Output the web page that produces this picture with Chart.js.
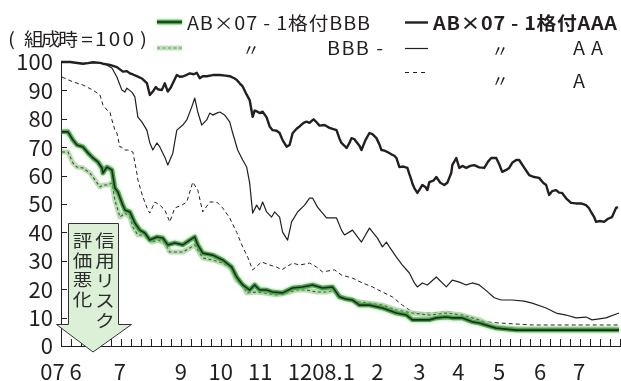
<!DOCTYPE html>
<html lang="ja"><head><meta charset="utf-8">
<script src="https://cdn.jsdelivr.net/npm/chart.js@4.4.1/dist/chart.umd.min.js"></script>
<style>html,body{margin:0;padding:0;background:#fff;overflow:hidden}canvas{display:block}</style>
</head><body>
<canvas id="chart" width="621" height="381"></canvas>
<script>
const FONT = '"Noto Sans CJK JP", "Noto Sans", sans-serif';
const TXT = '#231f20';
const AXIS = '#231f20';

// x axis: weeks counted from the start of June 2007 (weekly minor ticks)
const weekCount = 56;
const monthTickPos = [0, 5.9, 12, 16, 19.95, 23.95, 27.3, 31.7, 35.9, 39.8, 43.9, 48, 51.9];
const monthTickLabels = ['07 6', '7', '9', '10', '11', '12', '08.1', '2', '3', '4', '5', '6', '7'];
const yTickValues = [0, 10, 20, 30, 40, 50, 60, 70, 80, 90, 100];

// AB×07-1 格付AAA
const aaaWeek = [0,0.9,2.2,2.7,3.2,3.9,4.2,4.9,5.6,6.2, 6.6,6.9,7.2,7.6,8.1,8.6,8.9,9.2,9.5,9.7, 10.1,10.4,10.7,11.0,11.2,11.6,11.9,12.2,12.6,12.9, 13.3,13.6,13.9,14.2,14.6,15.2,15.9,16.5,16.9,17.4, 17.6,17.9,18.2,18.6,18.9,19.2,19.4,19.6,19.9,20.2, 20.6,20.9,21.2,21.6,21.9,22.2,22.6,22.9,23.2,23.6, 23.9,24.3,24.6,24.9,25.3,25.6,25.9,26.4,26.9,27.6, 27.9,28.1,28.4,28.6,28.9,29.1,29.4,29.6,29.9,30.1, 30.5,30.9,31.2,31.6,31.9,32.1,32.4,32.7,33.1,33.4, 33.6,33.9,34.3,34.7,34.9,35.1,35.2,35.4,35.7,35.9, 36.2,36.5,36.7,36.9,37.3,37.6,38.0,38.4,38.7,38.9, 39.1,39.2,39.6,39.9,40.2,40.6,41.0,41.4,41.9,42.4, 42.8,43.1,43.6,43.9,44.2,44.6,44.9,45.2,45.6,45.9, 46.4,46.9,47.4,47.9,48.3,48.6,48.9,49.2,49.6,49.9, 50.2,50.6,51.1,51.6,52.1,52.6,52.9,53.1,53.4,53.6, 54.0,54.4,54.8,55.2,55.4,55.6,55.8];
const aaaValue = [100,100,99.4,99.6,99.9,99.7,99.4,99,98.2,96.6, 96.8,96,95.6,95,94.2,92.6,88.4,89.6,91.2,90.4, 90.1,92.5,89.6,91,92.5,95.4,94.8,94.9,95.5,96, 95.7,96.2,94.3,95,95,95.4,95.4,95.2,95,94.2, 93.7,92.5,91.4,88.5,86.6,80.7,82.9,82.7,82,82.5, 80.5,77.3,76,75.8,75,72.5,70.2,70.8,74.9,76.5, 77.3,78.6,79,78.6,79.8,78.8,77.6,77.8,76.8,76, 73,71.5,70.5,69.7,71.5,73.2,72.8,71.8,70.5,69, 72.5,75,74.6,73.2,71,69,68.8,68.3,67.5,67, 66.2,63,63.2,62.7,60.5,58.5,57.2,55.6,53.9,55, 56.7,56,54.9,57.7,58.2,59.5,57.5,56.7,57.5,59.2, 61,63.7,66.2,62.7,63.4,62.7,63.4,63.7,62.9,62.7, 65,66.2,66.2,64,61.3,62,62.7,64.5,65.5,65.5, 62.8,60.2,59.5,59.2,57.5,56.7,53.2,54.5,54.9,54, 53.9,52,50.4,50.2,50.2,49.6,48.5,47.2,45.5,43.7, 44,43.7,44.8,45.4,47,48.6,48.9];

// 〃 AA
const aaWeek = [0,0.9,2.2,3.2,3.9,4.4,5.1,5.6,6.1,6.4, 6.6,7.1,7.4,7.7,8.1,8.6,8.9,9.2,9.6,9.9, 10.4,10.7,11.2,11.6,12.2,12.6,13.1,13.4,13.7,14.1, 14.6,14.9,15.2,15.6,15.9,16.4,16.9,17.2,17.7,18.2, 18.6,18.9,19.1,19.2,19.6,19.9,20.2,20.6,21.1,21.4, 21.9,22.2,22.7,23.1,23.7,24.4,24.9,25.2,25.7,26.6, 27.6,28.1,28.4,29.2,30.1,30.9,31.7,32.2,32.6,32.9, 33.6,34.2,34.9,35.4,35.7,36.2,36.7,37.6,38.6,39.2, 39.9,40.6,41.2,41.9,42.6,43.4,44.1,45.2,46.4,47.2, 48.6,49.6,50.6,51.6,52.6,53.2,54.6,55.9];
const aaValue = [100,100,99.4,99.9,99.7,99.3,97.9,94.7,90.1,89.4, 90.8,89.4,87.7,80.6,78.9,76,71.5,69,71.5,70.1, 66.5,63.7,67.9,76,77.8,79.6,84.2,87.3,82.4,77.8, 79.6,82,81.3,82,82.4,81.3,78.9,75,69,65.5, 63,57.4,50.4,46.8,49.6,47.9,50.7,47.2,45.4,47.2, 45.4,40.1,37.3,43.7,47.2,49.6,52.1,52.1,48.9,45.1, 45.1,40.8,39.1,40.8,36.6,41.5,38,34.9,36.6,34.9, 31.3,28.5,25.7,22.2,20.8,22.2,21.5,24.3,20.8,23.2, 22.5,21.5,22.2,21.5,19.5,17,16.2,16.2,15.8,15.1, 13.4,11.6,10.9,9.9,10.2,9.2,9.9,11.6];

// 〃 A
const aWeek = [0.1,1.2,2.2,3.2,3.9,4.2,4.6,4.9,5.1,5.4, 5.6,5.9,6.1,6.4,6.7,7.2,7.6,7.7,8.2,8.7, 8.9,9.4,9.9,10.4,10.9,11.4,12.1,12.6,13.2,13.7, 14.2,14.9,15.6,16.2,16.9,17.6,18.2,18.7,19.2,20.1, 20.9,21.6,22.1,23.2,23.9,24.9,25.6,26.2,27.4,28.1, 29.2,30.2,31.2,32.2,33.2,34.2,34.9,35.6,36.9,38.2, 39.1,39.6,40.9,41.9,42.6,43.9,47.2,55.9];
const aValue = [94.7,93,91.9,90.1,88.4,84.9,83.1,82.4,79.6,76, 75,70.1,70,69,69,68.3,60.9,58.5,52.5,47.9, 46.8,50.7,49.6,47.9,43.7,48.6,49.6,50.7,57.7,54.9, 47.2,50.7,50.7,48.6,45.1,40,34.9,31.3,26.8,29.6, 28.5,27.8,26.8,29.2,28.5,29.2,27.8,26.1,26.8,25, 23.9,22.2,20.8,19,17.3,14.4,12.7,11.6,11.6,12, 12,10.9,9.9,9.2,8.5,8.1,7.4,7.4];

// AB×07-1 格付BBB
const bbbWeek = [0.1,0.7,1.2,1.6,2.2,2.7,3.2,3.7,4.1,4.2, 4.6,5.1,5.4,5.7,6.1,6.4,6.9,7.4,7.9,8.4, 8.9,9.6,10.2,10.7,11.4,12.2,12.9,13.4,13.7,14.2, 15.2,16.2,17.1,17.6,18.2,18.9,19.4,19.9,20.6,21.2, 22.2,23.2,24.2,25.2,26.2,27.2,27.9,28.6,29.2,29.9, 30.9,32.2,33.6,34.6,35.2,36.9,37.6,38.6,39.2,40.2, 41.2,41.9,42.9,43.6,45.6,55.9];
const bbbValue = [75.4,75.4,72.5,70.8,70.1,68,66.2,64.8,62.7,60.9, 63,62,55.6,54.2,50.4,47.9,47.2,43.3,40.8,39.8, 37.3,38.4,38,35.6,36.3,35.6,37.3,38.4,35.6,32.7, 32,30.3,27.8,24.3,21.5,19.7,21.5,19.7,19.7,19, 18.7,20.4,20.8,21.5,20.4,20.8,17.3,16.5,16.2,14.4, 14.4,13.4,11.6,10.9,9.2,9.2,9.9,10.2,9.9,9.9, 8.5,8.1,7,6.3,5.6,5.6];

// 〃 BBB-
const bbbMinusWeek = [0.1,0.7,1.2,1.6,2.2,2.9,3.4,3.9,4.2,4.7, 5.1,5.4,5.9,6.4,6.9,7.2,7.7,8.4,9.1,9.7, 10.4,10.9,11.6,12.2,12.9,13.4,13.7,14.2,15.2,16.2, 16.9,17.1,17.6,18.2,18.6,19.6,20.2,21.6,22.6,23.6, 24.6,25.6,26.6,27.4,27.9,28.9,29.9,30.9,32.2,33.6, 35.2,36.9,38.6,40.2,41.9,42.9,43.9,45.9,55.9];
const bbbMinusValue = [68.3,68.3,64.4,63,62.7,60.9,58.5,56,56.7,56.7, 57.4,51.4,45.4,46.8,45.4,41.9,39.1,39.1,36.6,37.3, 36.3,33.1,33.1,33.1,34.5,35.6,33.8,31,30.3,29.2, 27.8,26.8,23.2,21.5,18.7,19,18.7,18,18.7,19.7, 19.7,19,19,19.7,17.3,16.5,15.5,15.1,14.4,12.7, 11.6,10.9,11.6,10.9,9.2,7.5,6.6,6,6];

function pts(w, v) { return w.map((x, i) => ({ x: x, y: v[i] })); }

// draw a string char by char, stretched horizontally by sx, spread to span x0..x1
function drawFit(ctx, text, x0, x1, y, sx) {
  const chars = [...text];
  const widths = chars.map(c => ctx.measureText(c).width * sx);
  const nat = widths.reduce((a, b) => a + b, 0);
  const gap = chars.length > 1 ? ((x1 - x0) - nat) / (chars.length - 1) : 0;
  let pos = x0;
  chars.forEach((c, i) => {
    ctx.save(); ctx.translate(pos, y); ctx.scale(sx, 1); ctx.fillText(c, 0, 0); ctx.restore();
    pos += widths[i] + gap;
  });
}
function drawCenter(ctx, text, cx, y, sx) {
  ctx.save(); ctx.translate(cx, y); ctx.scale(sx, 1); ctx.textAlign = 'center'; ctx.fillText(text, 0, 0); ctx.restore();
}

const lineStyles = {
  id: 'lineStyles',
  beforeDatasetDraw(chart, args) {
    const id = chart.data.datasets[args.index].id;
    if (id === 'bbb') {
      chart.ctx.save();
      chart.ctx.shadowColor = 'rgba(120,200,110,0.85)';
      chart.ctx.shadowBlur = 3;
    }
  },
  afterDatasetDraw(chart, args) {
    const ds = chart.data.datasets[args.index];
    const ctx = chart.ctx, a = chart.chartArea;
    if (ds.id === 'bbb') ctx.restore();
    if (ds.id !== 'bbb' && ds.id !== 'bbbMinus') return;
    const p = args.meta.data;
    ctx.save();
    ctx.beginPath(); ctx.rect(a.left, a.top - 4, a.right - a.left, a.bottom - a.top + 4); ctx.clip();
    ctx.beginPath();
    p.forEach((pt, i) => { if (i === 0) ctx.moveTo(pt.x, pt.y); else ctx.lineTo(pt.x, pt.y); });
    ctx.lineJoin = 'round';
    if (ds.id === 'bbb') { ctx.strokeStyle = '#1f2b1f'; ctx.lineWidth = 1.6; }
    else { ctx.strokeStyle = '#4a4a4a'; ctx.lineWidth = 1.1; ctx.setLineDash([3, 2.5]); }
    ctx.stroke();
    ctx.restore();
  }
};

const decorations = {
  id: 'decorations',
  afterDraw(chart) {
    const ctx = chart.ctx, a = chart.chartArea, x = chart.scales.x, y = chart.scales.y;
    // inward tick marks
    ctx.save();
    ctx.strokeStyle = AXIS; ctx.lineWidth = 1;
    ctx.beginPath();
    for (let w = 0; w <= weekCount; w++) {
      const px = Math.round(x.getPixelForValue(w)) + 0.5;
      ctx.moveTo(px, a.bottom); ctx.lineTo(px, a.bottom - 7);
    }
    yTickValues.forEach(v => {
      const py = Math.round(y.getPixelForValue(v)) + 0.5;
      ctx.moveTo(a.left, py); ctx.lineTo(a.left + 6, py);
    });
    ctx.stroke();
    ctx.restore();

    // arrow annotation
    const L = a.left;
    ctx.save();
    ctx.beginPath();
    ctx.moveTo(L + 7.5, 223.5); ctx.lineTo(L + 57.5, 223.5); ctx.lineTo(L + 57.5, 324.5);
    ctx.lineTo(L + 70.5, 324.5); ctx.lineTo(L + 32, 352); ctx.lineTo(L - 4.5, 324.5);
    ctx.lineTo(L + 7.5, 324.5); ctx.closePath();
    ctx.fillStyle = '#dcefd7'; ctx.fill();
    ctx.strokeStyle = '#333'; ctx.lineWidth = 1; ctx.stroke();
    ctx.fillStyle = '#2b2b2b';
    ctx.font = '17px ' + FONT;
    ctx.textBaseline = 'middle';
    [...'評価悪化'].forEach((c, i) => drawCenter(ctx, c, L + 21.5, 240.5 + i * 19.6, 1.15));
    [...'信用リスク'].forEach((c, i) => drawCenter(ctx, c, L + 44, 240.5 + i * 20, 1.15));
    ctx.restore();

    // unit title
    ctx.save();
    ctx.fillStyle = TXT; ctx.textBaseline = 'alphabetic';
    ctx.font = '18px ' + FONT;
    drawCenter(ctx, '(', 11.5, 46, 1.15);
    drawFit(ctx, '組成時', 24, 78, 46, 1.1);
    drawCenter(ctx, '=', 87, 46, 1.15);
    drawFit(ctx, '100', 95, 134, 46, 1.15);
    drawCenter(ctx, ')', 143.5, 46, 1.15);

    // legend
    ctx.font = '18px ' + FONT;
    drawFit(ctx, 'AB×07 - 1格付BBB', 187, 370, 29.5, 1.1);
    ctx.font = '600 18px ' + FONT;
    drawFit(ctx, 'AB×07 - 1格付AAA', 433, 617, 29.5, 1.1);
    ctx.font = '18px ' + FONT;
    drawFit(ctx, 'BBB -', 327, 383, 55, 1.1);
    drawFit(ctx, 'AA', 573, 603, 55, 1.1);
    drawFit(ctx, 'A', 573, 587, 88, 1.1);
    ctx.textBaseline = 'middle';
    ctx.font = '16px ' + FONT;
    drawCenter(ctx, '〃', 251, 50, 1.1);
    drawCenter(ctx, '〃', 500, 51, 1.1);
    drawCenter(ctx, '〃', 500, 81, 1.1);

    // legend samples
    ctx.lineCap = 'butt';
    // BBB sample
    ctx.save();
    ctx.shadowColor = 'rgba(120,200,110,0.85)'; ctx.shadowBlur = 3;
    ctx.strokeStyle = '#4aa64c'; ctx.lineWidth = 4.5;
    ctx.beginPath(); ctx.moveTo(157, 22); ctx.lineTo(182, 22); ctx.stroke();
    ctx.restore();
    ctx.strokeStyle = '#1f2b1f'; ctx.lineWidth = 1.6;
    ctx.beginPath(); ctx.moveTo(157, 22); ctx.lineTo(182, 22); ctx.stroke();
    // BBB- sample
    ctx.strokeStyle = '#bfe2b7'; ctx.lineWidth = 5;
    ctx.beginPath(); ctx.moveTo(157, 48); ctx.lineTo(182, 48); ctx.stroke();
    ctx.save(); ctx.setLineDash([3, 2.5]); ctx.strokeStyle = '#6f8f6a'; ctx.lineWidth = 1.1;
    ctx.beginPath(); ctx.moveTo(157, 48); ctx.lineTo(182, 48); ctx.stroke(); ctx.restore();
    // AAA / AA / A samples
    ctx.strokeStyle = TXT;
    ctx.lineWidth = 2.4; ctx.beginPath(); ctx.moveTo(405, 22.5); ctx.lineTo(428, 22.5); ctx.stroke();
    ctx.lineWidth = 1.2; ctx.beginPath(); ctx.moveTo(405, 48.5); ctx.lineTo(428, 48.5); ctx.stroke();
    ctx.save(); ctx.setLineDash([4, 4]); ctx.lineWidth = 1;
    ctx.beginPath(); ctx.moveTo(405, 72.5); ctx.lineTo(429, 72.5); ctx.stroke(); ctx.restore();
    ctx.restore();
  }
};

Chart.defaults.font.family = FONT;

new Chart(document.getElementById('chart'), {
  type: 'line',
  data: {
    datasets: [
      { id: 'bbb', label: 'AB×07-1格付BBB', data: pts(bbbWeek, bbbValue), borderColor: '#4aa64c', borderWidth: 4.5, order: 0, clip: 5 },
      { id: 'bbbMinus', label: '〃 BBB-', data: pts(bbbMinusWeek, bbbMinusValue), borderColor: 'rgba(170,216,160,0.85)', borderWidth: 5, order: 1, clip: 5 },
      { id: 'aaa', label: 'AB×07-1格付AAA', data: pts(aaaWeek, aaaValue), borderColor: '#231f20', borderWidth: 2.4, order: 2, clip: 5 },
      { id: 'aa', label: '〃 AA', data: pts(aaWeek, aaValue), borderColor: '#231f20', borderWidth: 1.2, order: 3, clip: 5 },
      { id: 'a', label: '〃 A', data: pts(aWeek, aValue), borderColor: '#231f20', borderWidth: 1, borderDash: [4, 3], order: 4, clip: 5 }
    ]
  },
  options: {
    responsive: false,
    devicePixelRatio: 1,
    animation: false,
    layout: { padding: { top: 62, right: 1, left: 0, bottom: 0 } },
    plugins: { legend: { display: false }, tooltip: { enabled: false }, title: { display: false } },
    elements: { point: { radius: 0 }, line: { tension: 0, borderJoinStyle: 'round', fill: false } },
    scales: {
      x: {
        type: 'linear', min: 0, max: weekCount,
        grid: { display: false, drawTicks: false },
        border: { display: true, color: AXIS, width: 1 },
        afterBuildTicks: s => { s.ticks = monthTickPos.map(v => ({ value: v })); },
        afterFit: s => { s.height = 35; },
        ticks: { autoSkip: false, maxRotation: 0, padding: 12, color: TXT, font: { size: 22, family: FONT },
          callback: (v, i) => monthTickLabels[i] }
      },
      y: {
        min: 0, max: 100,
        grid: { display: false, drawTicks: false },
        border: { display: true, color: AXIS, width: 1 },
        afterBuildTicks: s => { s.ticks = yTickValues.map(v => ({ value: v })); },
        afterFit: s => { s.width = 61; },
        ticks: { autoSkip: false, padding: 8, color: TXT, font: { size: 22, family: FONT }, callback: v => String(v) }
      }
    }
  },
  plugins: [lineStyles, decorations]
});
</script>
</body></html>
